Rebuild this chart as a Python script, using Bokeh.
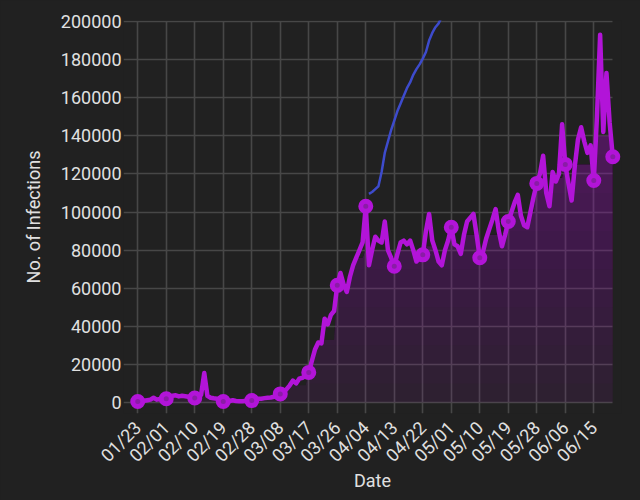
import numpy as np
import pandas as pd
from bokeh.plotting import figure
from bokeh.models import FixedTicker, DatetimeTickFormatter, NumeralTickFormatter, Range1d
from bokeh.embed import file_html
from bokeh.resources import INLINE

start_date = "2020-01-23"

# daily number of infections
infections = [
    500, 700, 900, 1200, 1500, 2500, 1500, 1800, 2000,            # 01/23 - 01/31
    2000, 3000, 3500, 3800, 3200, 3500, 3300, 3000, 2800,         # 02/01 - 02/09
    2400, 2500, 4000, 15500, 3500, 2500, 2200, 2000, 1800,        # 02/10 - 02/18
    500, 600, 800, 1200, 800, 700, 600, 800, 900,                 # 02/19 - 02/27
    1000, 1500, 2000, 2000, 2300, 2500, 2600, 3000, 4000,         # 02/28 - 03/07
    4500, 5500, 7000, 9000, 11500, 10000, 12500, 13000, 14000,    # 03/08 - 03/16
    15800, 22000, 28000, 31500, 31000, 44000, 41000, 46000, 48000,  # 03/17 - 03/25
    61500, 68000, 62000, 58000, 66000, 72000, 76000, 80000, 84000,  # 03/26 - 04/03
    103000, 72000, 80000, 87000, 85000, 84000, 95000, 80000, 76000,  # 04/04 - 04/12
    71500, 78000, 84000, 85000, 83000, 85000, 80000, 74000, 76000,   # 04/13 - 04/21
    77500, 90000, 99000, 85000, 80000, 74000, 72000, 80000, 85000,   # 04/22 - 04/30
    92000, 83000, 82000, 78000, 88000, 95000, 97000, 99000, 88000,   # 05/01 - 05/09
    76000, 79000, 86000, 91000, 96000, 101500, 90000, 82000, 88000,  # 05/10 - 05/18
    95000, 100000, 105000, 109000, 98000, 93000, 92000, 100000, 108000,  # 05/19 - 05/27
    115000, 120000, 129500, 110000, 103000, 121000, 116000, 120000, 146000,  # 05/28 - 06/05
    125000, 115000, 106000, 124000, 138000, 144500, 137000, 131000, 135000,  # 06/06 - 06/14
    116500, 150000, 193000, 142000, 173000, 147000, 129000,          # 06/15 - 06/21
]

# second series (blue), starting 04/05
blue_start = "2020-04-05"
blue_values = [
    109500, 110500, 112000, 113500, 121000, 131000, 137000, 143000,
    148000, 153000, 157000, 161000, 165000, 168000, 172000, 175000,
    177500, 180500, 184000, 190000, 194000, 197000, 199000, 202500,
]

# level of the shaded area for each 9-day period
fill_levels = [
    1000, 3000, 3000, 800, 2000, 9000, 33000, 76000, 80000,
    80000, 82000, 88000, 88000, 100000, 118000, 125000, 140000,
]

y_ticks = list(range(0, 200001, 20000))
period = 9

BG = "#212121"
GRID = "#474747"
TEXT = "#e0e0e0"
PURPLE = "#b214d8"
BLUE = "#3d4bcc"
FONT = "Roboto"

dates = pd.date_range(start_date, periods=len(infections), freq="D")
vals = np.array(infections, dtype=float)
blue_dates = pd.date_range(blue_start, periods=len(blue_values), freq="D")

def ms(t):
    return pd.Timestamp(t).value / 1e6

day_ms = 86400000.0
x0 = ms(dates[0])
x1 = ms(dates[-1])
y_lo = -5774
y_hi = 200525

p = figure(
    x_axis_type="datetime",
    frame_width=498, frame_height=393,
    min_border_left=123, min_border_top=20, min_border_right=19, min_border_bottom=87,
    x_range=Range1d(x0 - 4.5 * day_ms, x1 + 2.75 * day_ms),
    y_range=Range1d(y_lo, y_hi),
    output_backend="svg", toolbar_location=None,
    background_fill_color=BG, border_fill_color=BG,
)
p.outline_line_color = None

# shaded area with vertical gradient (stacked translucent layers)
levels = np.repeat(np.array(fill_levels, dtype=float), period)[: len(vals)]
fill_top = np.minimum(vals, levels)
thresholds = np.arange(0, 200000, 10000)
def cum_alpha(h):
    return 0.08 + 0.28 * h / 140000.0
prev = 0.0
for t in thresholds:
    A = cum_alpha(t + 5000)
    a = 1 - (1 - A) / (1 - prev)
    prev = A
    y1 = np.minimum(fill_top, t)
    p.varea(x=dates, y1=y1, y2=fill_top, fill_color=PURPLE, fill_alpha=a)

p.line(blue_dates, blue_values, line_color=BLUE, line_width=2.5, line_join="round")
p.line(dates, vals, line_color=PURPLE, line_width=4.5, line_join="round")

mk = list(range(0, len(vals), period)) + [len(vals) - 1]
p.scatter(dates[mk], vals[mk], size=10, line_width=5, line_color=PURPLE, fill_color="#8a1ca6")

# ticks and grid
xt = [ms(d) for d in dates[::period]]
p.xaxis.ticker = FixedTicker(ticks=xt)
p.xaxis.formatter = DatetimeTickFormatter(
    days="%m/%d", months="%m/%d", years="%m/%d", hours="%m/%d",
    minutes="%m/%d", seconds="%m/%d", milliseconds="%m/%d", minsec="%m/%d",
    hourmin="%m/%d")
p.yaxis.ticker = FixedTicker(ticks=y_ticks)
p.yaxis.formatter = NumeralTickFormatter(format="0")

p.xgrid.ticker = FixedTicker(ticks=xt)
p.ygrid.ticker = FixedTicker(ticks=y_ticks)
for g in (p.xgrid, p.ygrid):
    g.grid_line_color = GRID
    g.grid_line_width = 1.6
p.xgrid.cross_bounds = (y_lo, 200000)
p.ygrid.cross_bounds = (x0 - 4.5 * day_ms, x1)

for ax in (p.xaxis, p.yaxis):
    ax.axis_line_color = None
    ax.major_tick_line_color = None
    ax.minor_tick_line_color = None
    ax.major_tick_in = 0
    ax.major_tick_out = 0
    ax.major_label_text_font = FONT
    ax.major_label_text_font_size = "18px"
    ax.major_label_text_color = TEXT
    ax.axis_label_text_font = FONT
    ax.axis_label_text_font_size = "18px"
    ax.axis_label_text_color = TEXT
    ax.axis_label_text_font_style = "normal"

p.xaxis.major_label_orientation = np.pi / 4
p.xaxis.major_label_standoff = 11
p.xaxis.axis_label = "Date"
p.xaxis.axis_label_standoff = -6
p.yaxis.major_label_standoff = 2
p.yaxis.axis_label = "No. of Infections"
p.yaxis.axis_label_standoff = 14

html = file_html(p, INLINE)
html = html.replace("<head>", "<head><style>html,body{background:#212121;}</style>", 1)
open("out.html", "w").write(html)
